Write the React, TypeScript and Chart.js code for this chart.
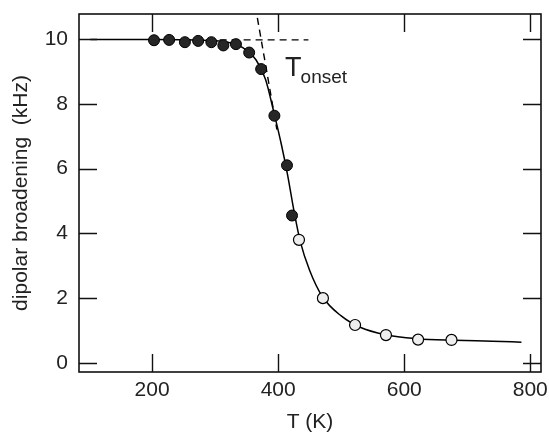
import { useEffect, useRef } from "react";
import { Chart, registerables } from "chart.js";

Chart.register(...registerables);

// ---- data ----
const filledT = [203, 227, 252, 273, 294, 313, 333, 354, 373, 394, 414, 422];
const filledY = [9.96, 9.97, 9.9, 9.94, 9.9, 9.8, 9.84, 9.58, 9.07, 7.63, 6.1, 4.55];

const openT = [433, 471, 522, 571, 622, 675];
const openY = [3.8, 2.0, 1.17, 0.86, 0.72, 0.71];

// fitted curve
const curveT = [102, 200, 280, 320, 345, 365, 380, 393, 405, 415, 425, 435, 450, 470, 500, 530, 570, 620, 680, 740, 786];
const curveY = [9.98, 9.98, 9.96, 9.9, 9.72, 9.35, 8.75, 7.75, 6.75, 5.8, 4.7, 3.75, 2.85, 2.05, 1.45, 1.1, 0.87, 0.75, 0.7, 0.67, 0.64];

// dashed construction lines
const plateauT = [250, 448];
const plateauY = [9.97, 9.97];
const tangentT = [367, 398];
const tangentY = [10.65, 7.2];

// axes
const xRange = [84, 817];
const yRange = [-0.28, 10.77];
const xTicks = [200, 400, 600, 800];
const yTicks = [0, 2, 4, 6, 8, 10];

// label
const labelMain = "T";
const labelSub = "onset";
const labelPos = { x: 411, y: 8.86, subY: 8.65 };

const FONT = '"Liberation Sans", Arial, Helvetica, sans-serif';

const zip = (xs: number[], ys: number[]) => xs.map((x, i) => ({ x, y: ys[i] }));

export default function App() {
  const ref = useRef<HTMLCanvasElement>(null);

  useEffect(() => {
    const canvas = ref.current;
    if (!canvas) return;

    const framePlugin = {
      id: "frameTicks",
      afterDatasetsDraw(chart: any) {
        const { ctx, chartArea: a, scales } = chart;
        const x = scales.x;
        const y = scales.y;
        ctx.save();
        ctx.strokeStyle = "#111";
        ctx.lineWidth = 1.6;
        ctx.strokeRect(a.left, a.top, a.right - a.left, a.bottom - a.top);
        ctx.lineWidth = 1.4;
        const L = 18;
        ctx.beginPath();
        xTicks.forEach((v) => {
          const px = Math.round(x.getPixelForValue(v)) + 0.5;
          ctx.moveTo(px, a.bottom);
          ctx.lineTo(px, a.bottom - L);
          ctx.moveTo(px, a.top);
          ctx.lineTo(px, a.top + L);
        });
        yTicks.forEach((v) => {
          const py = Math.round(y.getPixelForValue(v)) + 0.5;
          ctx.moveTo(a.left, py);
          ctx.lineTo(a.left + L, py);
          ctx.moveTo(a.right, py);
          ctx.lineTo(a.right - L, py);
        });
        ctx.stroke();

        ctx.fillStyle = "#222";
        ctx.textBaseline = "alphabetic";
        ctx.textAlign = "left";
        ctx.font = `27px ${FONT}`;
        const tx = x.getPixelForValue(labelPos.x);
        const ty = y.getPixelForValue(labelPos.y);
        ctx.fillText(labelMain, tx, ty);
        const w = ctx.measureText(labelMain).width;
        ctx.font = `19px ${FONT}`;
        ctx.fillText(labelSub, tx + w - 1, y.getPixelForValue(labelPos.subY));
        ctx.restore();
      },
    };

    const chart = new Chart(canvas, {
      type: "scatter",
      data: {
        datasets: [
          {
            data: zip(filledT, filledY),
            showLine: false,
            pointRadius: 5.5,
            pointBackgroundColor: "#262626",
            pointBorderColor: "#000",
            pointBorderWidth: 1,
            order: 0,
          },
          {
            data: zip(openT, openY),
            showLine: false,
            pointRadius: 5.5,
            pointBackgroundColor: "#eeeeee",
            pointBorderColor: "#000",
            pointBorderWidth: 1.2,
            order: 0,
          },
          {
            data: zip(curveT, curveY),
            showLine: true,
            pointRadius: 0,
            borderColor: "#000",
            borderWidth: 1.5,
            cubicInterpolationMode: "monotone",
            order: 1,
          },
          {
            data: zip(plateauT, plateauY),
            showLine: true,
            pointRadius: 0,
            borderColor: "#000",
            borderWidth: 1.4,
            borderDash: [7, 5],
            order: 2,
          },
          {
            data: zip(tangentT, tangentY),
            showLine: true,
            pointRadius: 0,
            borderColor: "#000",
            borderWidth: 1.4,
            borderDash: [7, 5],
            order: 2,
          },
        ],
      } as any,
      options: {
        animation: false,
        responsive: false,
        devicePixelRatio: 1,
        layout: { padding: { top: 14, right: 8, left: 0, bottom: 0 } },
        plugins: {
          legend: { display: false },
          tooltip: { enabled: false },
        },
        scales: {
          x: {
            type: "linear",
            min: xRange[0],
            max: xRange[1],
            grid: { display: false, drawTicks: false },
            border: { display: false },
            afterBuildTicks: (s: any) => {
              s.ticks = xTicks.map((v) => ({ value: v }));
            },
            afterFit: (s: any) => {
              s.height = 63;
              s.paddingLeft = 0;
              s.paddingRight = 0;
            },
            ticks: {
              font: { family: FONT, size: 21 },
              color: "#222",
              padding: 6,
              maxRotation: 0,
            },
            title: {
              display: true,
              text: "T (K)",
              font: { family: FONT, size: 21 },
              color: "#222",
              padding: 0,
            },
          },
          y: {
            type: "linear",
            min: yRange[0],
            max: yRange[1],
            grid: { display: false, drawTicks: false },
            border: { display: false },
            afterBuildTicks: (s: any) => {
              s.ticks = yTicks.map((v) => ({ value: v }));
            },
            afterFit: (s: any) => {
              s.width = 79;
              s.paddingTop = 0;
              s.paddingBottom = 0;
            },
            ticks: {
              font: { family: FONT, size: 21 },
              color: "#222",
              padding: 11,
            },
            title: {
              display: true,
              text: "dipolar broadening  (kHz)",
              font: { family: FONT, size: 21 },
              color: "#222",
              padding: 9,
            },
          },
        },
      } as any,
      plugins: [framePlugin],
    });

    return () => chart.destroy();
  }, []);

  return (
    <div style={{ position: "fixed", left: 0, top: 0, width: 549, height: 435, background: "#fff" }}>
      <canvas ref={ref} width={549} height={435} style={{ display: "block" }} />
    </div>
  );
}
